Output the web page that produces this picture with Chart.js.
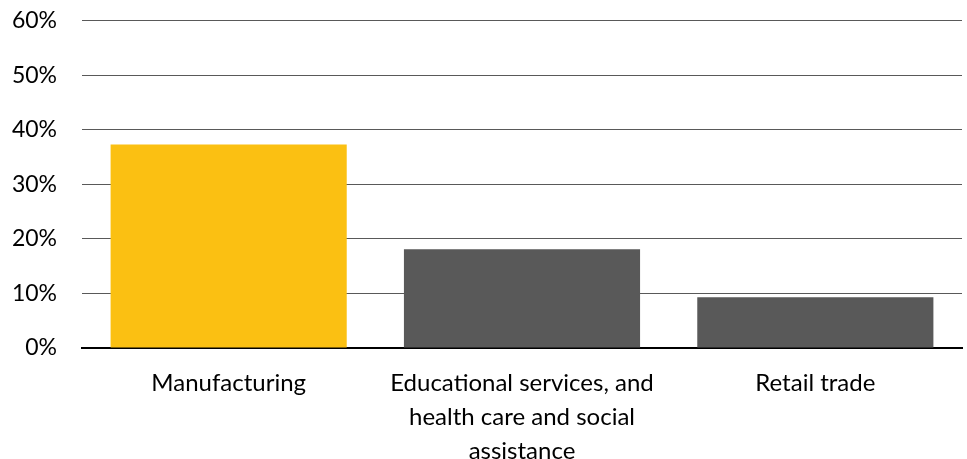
<!DOCTYPE html>
<html>
<head>
<meta charset="utf-8">
<script src="https://cdn.jsdelivr.net/npm/chart.js@4"></script>
<style>
  html, body { margin: 0; padding: 0; background: #fff; overflow: hidden; }
  #clip { width: 967px; height: 459px; overflow: hidden; position: relative; }
  #wrap { width: 967px; height: 477px; position: absolute; top: -18px; left: 0; }
</style>
</head>
<body>
<div id="clip"><div id="wrap"><canvas id="chart"></canvas></div></div>
<script>
const categories = [
  'Manufacturing',
  ['Educational services, and', 'health care and social', 'assistance'],
  'Retail trade'
];
const shares = [37.3, 18.1, 9.3];
const barColors = ['#FBC012', '#595959', '#595959'];
const yTicks = [0, 10, 20, 30, 40, 50, 60];

Chart.defaults.font.family = 'Lato, "Open Sans", sans-serif';
Chart.defaults.color = '#000';

new Chart(document.getElementById('chart'), {
  type: 'bar',
  data: {
    labels: categories,
    datasets: [{
      data: shares,
      backgroundColor: barColors,
      borderWidth: 0,
      barPercentage: 0.805,
      categoryPercentage: 1,
    }]
  },
  options: {
    responsive: true,
    maintainAspectRatio: false,
    animation: false,
    layout: { padding: { left: 0, right: 5, top: 8, bottom: 0 } },
    plugins: { legend: { display: false }, tooltip: { enabled: false } },
    scales: {
      x: {
        grid: { display: false, drawTicks: false },
        border: { color: '#000', width: 2 },
        ticks: { font: { size: 24, lineHeight: 1.42 }, padding: 18, maxRotation: 0 },
        afterFit: s => { s.height = 111; }
      },
      y: {
        min: 0,
        max: 60,
        afterBuildTicks: s => { s.ticks = yTicks.map(v => ({ value: v })); },
        grid: { color: '#595959', lineWidth: 1, drawTicks: false },
        border: { display: false },
        ticks: { font: { size: 23 }, padding: 25, callback: v => v + '%' },
        afterFit: s => { s.width = 82; }
      }
    }
  }
});
</script>
</body>
</html>
